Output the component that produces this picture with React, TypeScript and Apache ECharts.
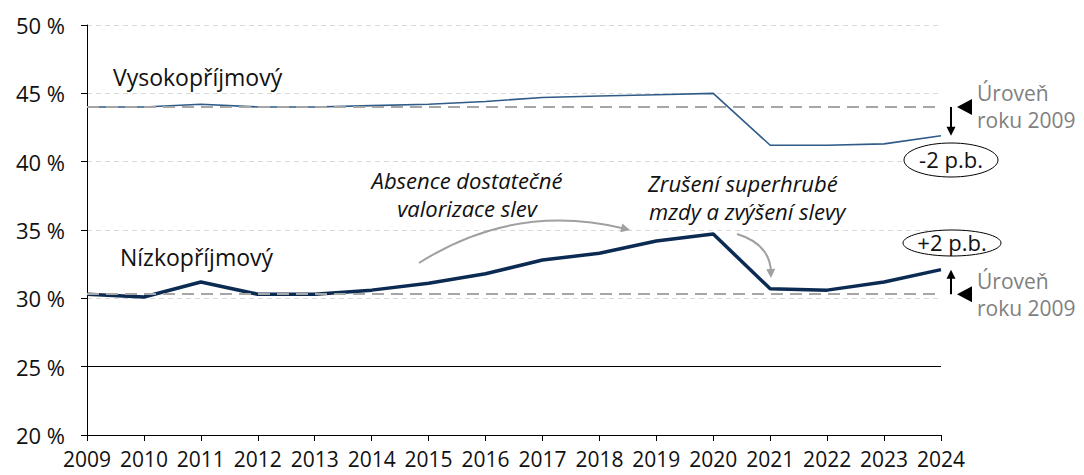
import React, { useEffect, useRef } from "react";
import * as echarts from "echarts";

const years = ["2009","2010","2011","2012","2013","2014","2015","2016","2017","2018","2019","2020","2021","2022","2023","2024"];
const highIncome = [44.0, 44.0, 44.2, 44.0, 44.0, 44.1, 44.2, 44.4, 44.7, 44.8, 44.9, 45.0, 41.2, 41.2, 41.3, 41.9];
const lowIncome = [30.3, 30.1, 31.2, 30.3, 30.3, 30.6, 31.1, 31.8, 32.8, 33.3, 34.2, 34.7, 30.7, 30.6, 31.2, 32.1];
const baseHigh = 44.0;
const baseLow = 30.3;
const highLabel = "Vysokopříjmový";
const lowLabel = "Nízkopříjmový";
const note1 = ["Absence dostatečné", "valorizace slev"];
const note2 = ["Zrušení superhrubé", "mzdy a zvýšení slevy"];
const levelText = ["Úroveň", "roku 2009"];
const diffHigh = "-2 p.b.";
const diffLow = "+2 p.b.";

const FONT = "'Open Sans', 'Noto Sans', sans-serif";

function arrowHead(tip: number[], from: number[], len: number, half: number, color: string) {
  const dx = tip[0] - from[0];
  const dy = tip[1] - from[1];
  const d = Math.sqrt(dx * dx + dy * dy) || 1;
  const ux = dx / d, uy = dy / d;
  const bx = tip[0] - ux * len, by = tip[1] - uy * len;
  return {
    type: "polygon",
    shape: { points: [tip, [bx - uy * half, by + ux * half], [bx + uy * half, by - ux * half]] },
    style: { fill: color },
    silent: true,
  };
}

export default function App() {
  const ref = useRef<HTMLDivElement>(null);
  useEffect(() => {
    const chart = echarts.init(ref.current!, undefined, { renderer: "svg" });
    const option: any = {
      animation: false,
      grid: { left: 87, right: 143, top: 25, bottom: 40 },
      xAxis: {
        type: "category",
        data: years,
        boundaryGap: false,
        axisLine: { lineStyle: { color: "#000", width: 1 } },
        axisTick: { show: true, length: 6, lineStyle: { color: "#000" } },
        axisLabel: { color: "#111", fontSize: 21, fontFamily: FONT, margin: 13, interval: 0, lineHeight: 22 },
        splitLine: { show: false },
      },
      yAxis: {
        type: "value",
        min: 20,
        max: 50,
        interval: 5,
        axisLine: { show: true, lineStyle: { color: "#000", width: 1 } },
        axisTick: { show: true, length: 6, lineStyle: { color: "#000" } },
        axisLabel: { color: "#111", fontSize: 22, fontFamily: FONT, margin: 22, formatter: "{value} %" },
        splitLine: { show: true, lineStyle: { color: "#d9d9d9", type: [5, 4], width: 1 } },
      },
      series: [
        {
          type: "line",
          data: highIncome,
          symbol: "none",
          lineStyle: { color: "#2f5b88", width: 1.6 },
          z: 3,
          markLine: {
            silent: true,
            symbol: "none",
            label: { show: false },
            lineStyle: { color: "#a6a6a6", type: [12, 7], width: 2 },
            data: [{ yAxis: baseHigh }, { yAxis: baseLow }],
          },
        },
        {
          type: "line",
          data: lowIncome,
          symbol: "none",
          lineStyle: { color: "#0c2b52", width: 3.5 },
          z: 4,
          markLine: {
            silent: true,
            symbol: "none",
            label: { show: false },
            lineStyle: { color: "#000", type: "solid", width: 1 },
            data: [{ yAxis: 25 }],
          },
        },
      ],
    };
    chart.setOption(option);

    const p = (i: number, v: number) => chart.convertToPixel({ gridIndex: 0 }, [i, v]) as number[];
    const last = years.length - 1;
    const ax = p(last, baseHigh)[0] + 10;
    const yBH = p(last, baseHigh)[1];
    const yHE = p(last, highIncome[last])[1];
    const yBL = p(last, baseLow)[1];
    const yLE = p(last, lowIncome[last])[1];
    const grey = "#7f7f7f";
    const arrowGrey = "#a0a0a0";

    const txt = (text: string, x: number, y: number, opts: any = {}) => ({
      type: "text",
      x, y,
      silent: true,
      style: {
        text,
        fill: opts.fill || "#111",
        fontSize: opts.fontSize || 22,
        lineHeight: opts.fontSize || 22,
        fontFamily: FONT,
        fontStyle: opts.italic ? "italic" : "normal",
        textAlign: opts.align || "left",
        textVerticalAlign: "middle",
      },
      z: 10,
    });

    const c1s = [419, 263], c1c = [515, 202], c1e = [630, 230];
    const c2s = [737, 234], c2c = [770, 244], c2e = [771, 278];

    const graphics: any[] = [
      txt(highLabel, 113, 77, { fontSize: 23 }),
      txt(lowLabel, 120, 257, { fontSize: 23 }),
      txt(note1[0], 467, 180, { italic: true, align: "center", fontSize: 22 }),
      txt(note1[1], 467, 208, { italic: true, align: "center", fontSize: 22 }),
      txt(note2[0], 648, 183, { italic: true, fontSize: 22 }),
      txt(note2[1], 649, 211, { italic: true, fontSize: 22 }),
      {
        type: "bezierCurve",
        silent: true,
        shape: { x1: c1s[0], y1: c1s[1], cpx1: c1c[0], cpy1: c1c[1], x2: c1e[0] - 6, y2: c1e[1] - 1.5 },
        style: { stroke: arrowGrey, lineWidth: 2, fill: "none" },
      },
      arrowHead(c1e, c1c, 9, 4.5, arrowGrey),
      {
        type: "bezierCurve",
        silent: true,
        shape: { x1: c2s[0], y1: c2s[1], cpx1: c2c[0], cpy1: c2c[1], x2: c2e[0], y2: c2e[1] - 6 },
        style: { stroke: arrowGrey, lineWidth: 2, fill: "none" },
      },
      arrowHead(c2e, c2c, 9, 4.5, arrowGrey),
      { type: "line", silent: true, shape: { x1: ax, y1: yBH, x2: ax, y2: yHE - 8 }, style: { stroke: "#000", lineWidth: 2 } },
      arrowHead([ax, yHE], [ax, yBH], 9, 4.5, "#000"),
      { type: "polygon", silent: true, shape: { points: [[ax + 6, yBH], [ax + 21, yBH - 8], [ax + 21, yBH + 8]] }, style: { fill: "#000" } },
      txt(levelText[0], ax + 26, yBH - 14, { fill: grey, fontSize: 21 }),
      txt(levelText[1], ax + 26, yBH + 13, { fill: grey, fontSize: 21 }),
      { type: "ellipse", silent: true, shape: { cx: ax, cy: 160, rx: 47, ry: 17 }, style: { fill: "#fff", stroke: "#000", lineWidth: 1 }, z: 9 },
      txt(diffHigh, ax, 159, { align: "center", fontSize: 22 }),
      { type: "line", silent: true, shape: { x1: ax, y1: yBL, x2: ax, y2: yLE + 8 }, style: { stroke: "#000", lineWidth: 2 } },
      arrowHead([ax, yLE], [ax, yBL], 9, 4.5, "#000"),
      { type: "polygon", silent: true, shape: { points: [[ax + 6, yBL], [ax + 21, yBL - 8], [ax + 21, yBL + 8]] }, style: { fill: "#000" } },
      txt(levelText[0], ax + 26, yBL - 13, { fill: grey, fontSize: 21 }),
      txt(levelText[1], ax + 26, yBL + 14, { fill: grey, fontSize: 21 }),
      { type: "ellipse", silent: true, shape: { cx: ax + 1, cy: 243, rx: 49, ry: 13 }, style: { fill: "#fff", stroke: "#000", lineWidth: 1 }, z: 9 },
      txt(diffLow, ax + 1, 242, { align: "center", fontSize: 22 }),
    ];
    chart.setOption({ graphic: { elements: graphics } });
    return () => chart.dispose();
  }, []);
  return <div ref={ref} style={{ width: 1084, height: 475, position: "absolute", left: 0, top: 0 }} />;
}
